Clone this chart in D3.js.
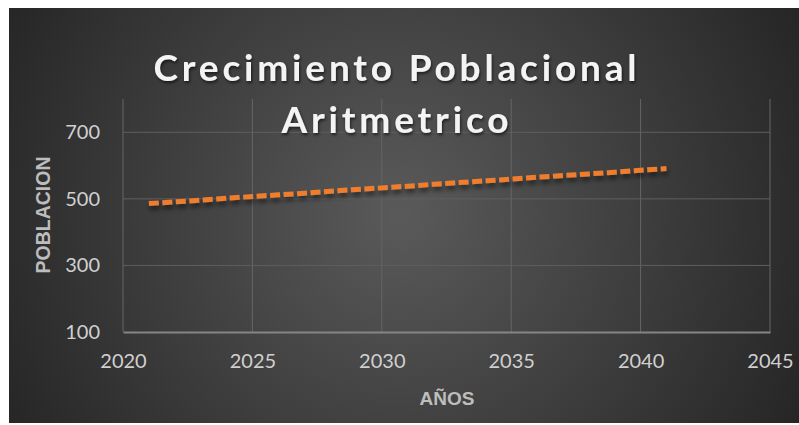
<!DOCTYPE html>
<html>
<head>
<meta charset="utf-8">
<script src="https://cdn.jsdelivr.net/npm/d3@7"></script>
<style>
  body { margin: 0; background: #fff; }
  svg { display: block; }
</style>
</head>
<body>
<div id="chart"></div>
<script>
//chart data
var years = [2021, 2022, 2023, 2024, 2025, 2026, 2027, 2028, 2029, 2030, 2031,
             2032, 2033, 2034, 2035, 2036, 2037, 2038, 2039, 2040, 2041];
var poblacion = [486, 491, 496, 502, 507, 512, 517, 523, 528, 533, 538,
                 544, 549, 554, 559, 565, 570, 575, 580, 586, 591];
var xTicks = [2020, 2025, 2030, 2035, 2040, 2045];
var yTicks = [100, 300, 500, 700];
var titleLines = ["Crecimiento Poblacional", "Aritmetrico"];

//page and plot dimensions
var W = 799, H = 425;
var plot = {left: 123, right: 770, top: 99, bottom: 332};

var svg = d3.select("#chart")
  .append("svg")
    .attr("width", W)
    .attr("height", H);

var defs = svg.append("defs");

//dark radial background like the excel style
var grad = defs.append("radialGradient")
  .attr("id", "bg")
  .attr("gradientUnits", "userSpaceOnUse")
  .attr("cx", 400).attr("cy", 215).attr("r", 470);
grad.append("stop").attr("offset", "0%").attr("stop-color", "#5a5a5a");
grad.append("stop").attr("offset", "100%").attr("stop-color", "#232323");

//shadow under the line
var sh = defs.append("filter").attr("id", "lineShadow")
  .attr("x", "-10%").attr("y", "-50%").attr("width", "120%").attr("height", "300%");
sh.append("feDropShadow")
  .attr("dx", 1).attr("dy", 4).attr("stdDeviation", 2.5)
  .attr("flood-color", "#000").attr("flood-opacity", 0.55);

//shadow under the title
var ts = defs.append("filter").attr("id", "textShadow")
  .attr("x", "-10%").attr("y", "-30%").attr("width", "120%").attr("height", "160%");
ts.append("feDropShadow")
  .attr("dx", 1).attr("dy", 2).attr("stdDeviation", 1.5)
  .attr("flood-color", "#000").attr("flood-opacity", 0.6);

svg.append("rect")
  .attr("x", 9).attr("y", 8)
  .attr("width", W - 9).attr("height", 415)
  .attr("fill", "url(#bg)");

//scales
var x = d3.scaleLinear().domain([2020, 2045]).range([plot.left, plot.right]);
var y = d3.scaleLinear().domain([100, 800]).range([plot.bottom, plot.top]);

//gridlines
var grid = svg.append("g").attr("class", "grid");
grid.selectAll(".vgrid")
  .data(xTicks)
  .enter().append("line")
  .attr("class", "vgrid")
  .attr("x1", function(d) { return x(d); })
  .attr("x2", function(d) { return x(d); })
  .attr("y1", plot.top)
  .attr("y2", plot.bottom)
  .attr("stroke", "#666")
  .attr("stroke-width", 1);
grid.selectAll(".hgrid")
  .data(yTicks.slice(1))
  .enter().append("line")
  .attr("class", "hgrid")
  .attr("x1", plot.left)
  .attr("x2", plot.right)
  .attr("y1", function(d) { return y(d); })
  .attr("y2", function(d) { return y(d); })
  .attr("stroke", "#5f5f5f")
  .attr("stroke-width", 1);

//X axis
var xAxis = d3.axisBottom(x)
  .tickValues(xTicks)
  .tickFormat(d3.format("d"))
  .tickSize(0)
  .tickPadding(22);
var gx = svg.append("g")
  .attr("transform", "translate(0," + plot.bottom + ")")
  .call(xAxis);
gx.select(".domain").attr("stroke", "#858585").attr("stroke-width", 2);

//Y axis
var yAxis = d3.axisLeft(y)
  .tickValues(yTicks)
  .tickSize(0)
  .tickPadding(23);
var gy = svg.append("g")
  .attr("transform", "translate(" + plot.left + ",0)")
  .call(yAxis);
gy.select(".domain").remove();

svg.selectAll(".tick text")
  .attr("fill", "#d0d0d0")
  .style("font-family", "Lato, 'Open Sans', sans-serif")
  .style("font-size", "20px");

//series line
svg.append("path")
  .datum(years.map(function(d, i) { return {year: d, pop: poblacion[i]}; }))
  .attr("fill", "none")
  .attr("stroke", "#ef7d2e")
  .attr("stroke-width", 5)
  .attr("stroke-dasharray", "10,3.5")
  .attr("filter", "url(#lineShadow)")
  .attr("d", d3.line()
    .x(function(d) { return x(d.year); })
    .y(function(d) { return y(d.pop); }));

//title
svg.selectAll(".title")
  .data(titleLines)
  .enter().append("text")
  .attr("class", "title")
  .attr("x", 395)
  .attr("y", function(d, i) { return 81 + i * 52; })
  .attr("text-anchor", "middle")
  .attr("fill", "#f4f4f4")
  .attr("filter", "url(#textShadow)")
  .attr("textLength", function(d, i) { return i == 0 ? 483 : 227; })
  .attr("lengthAdjust", "spacing")
  .style("font-family", "Lato, 'Open Sans', sans-serif")
  .style("font-weight", "bold")
  .style("font-size", "37px")
  .text(function(d) { return d; });

//axis titles
svg.append("text")
  .attr("x", 447)
  .attr("y", 405)
  .attr("text-anchor", "middle")
  .attr("fill", "#bdbdbd")
  .style("font-family", "'Liberation Sans', Arial, sans-serif")
  .style("font-weight", "bold")
  .style("font-size", "19px")
  .text("AÑOS");

svg.append("text")
  .attr("transform", "translate(50,215) rotate(-90)")
  .attr("text-anchor", "middle")
  .attr("fill", "#bdbdbd")
  .style("font-family", "'Liberation Sans', Arial, sans-serif")
  .style("font-weight", "bold")
  .style("font-size", "19.5px")
  .text("POBLACION");
</script>
</body>
</html>
